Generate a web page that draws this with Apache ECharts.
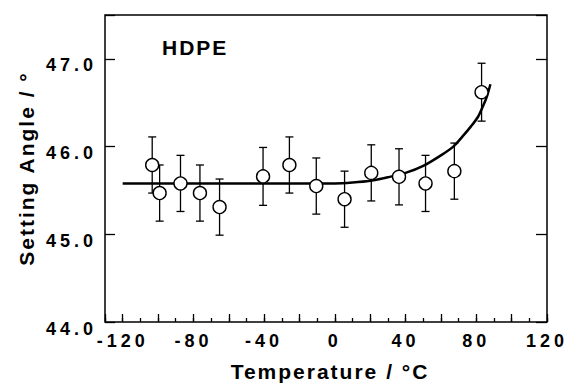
<!DOCTYPE html>
<html>
<head>
<meta charset="utf-8">
<script src="https://cdn.jsdelivr.net/npm/echarts@6/dist/echarts.min.js"></script>
<style>
html,body{margin:0;padding:0;background:#fff;}
#chart{width:570px;height:387px;}
</style>
</head>
<body>
<div id="chart"></div>
<script>
// Measured points (temperature in °C, setting angle in °)
const temps = [-103.3, -99.1, -87.3, -76.3, -65.2, -40.6, -25.7, -10.5, 5.5, 20.6, 36.3, 51.3, 67.6, 83.0];
const angles = [45.79, 45.47, 45.58, 45.47, 45.31, 45.66, 45.79, 45.55, 45.40, 45.70, 45.655, 45.58, 45.72, 46.62];
const errors = [0.32, 0.32, 0.32, 0.32, 0.32, 0.33, 0.32, 0.32, 0.32, 0.32, 0.32, 0.32, 0.32, 0.33];
// Fitted curve
const curveT = [-120, -40, 0, 10, 20, 30, 40, 50, 60, 67, 72, 77, 81, 84, 86, 88];
const curveA = [45.58, 45.58, 45.58, 45.59, 45.61, 45.65, 45.70, 45.78, 45.90, 46.00, 46.11, 46.23, 46.34, 46.47, 46.57, 46.71];
// Axis texts
const xTitle = 'Temperature / °C';
const yTitle = 'Setting Angle / °';
const panelLabel = 'HDPE';

const FONT = 'Arial, "Liberation Sans", Helvetica, sans-serif';
const chart = echarts.init(document.getElementById('chart'), null, {renderer: 'svg'});

const pts = temps.map((t, i) => [t, angles[i]]);
const bars = temps.map((t, i) => [t, angles[i] - errors[i], angles[i] + errors[i]]);
const curve = curveT.map((t, i) => [t, curveA[i]]);

chart.setOption({
  animation: false,
  backgroundColor: '#fff',
  title: {
    text: panelLabel, left: 157, top: 32,
    textStyle: {fontFamily: FONT, fontSize: 21, fontWeight: 'bold', color: '#000'}
  },
  grid: {left: 105, right: 23, top: 15, bottom: 61, show: true, borderColor: '#000', borderWidth: 1.5, backgroundColor: 'transparent'},
  xAxis: [
    {
      type: 'value', min: -130, max: 120, interval: 10, position: 'bottom',
      axisLine: {show: false, onZero: false},
      axisTick: {show: true, inside: true, length: 4, lineStyle: {color: '#000', width: 1.3}},
      axisLabel: {show: false},
      splitLine: {show: false}
    },
    {
      type: 'value', inverse: true, min: -120, max: 130, interval: 20, position: 'bottom',
      axisLine: {show: false, onZero: false},
      axisTick: {show: true, inside: true, length: 8, lineStyle: {color: '#000', width: 1.3}},
      axisLabel: {
        show: true, margin: 10, fontFamily: FONT, fontSize: 18, fontWeight: 'bold', color: '#000',
        formatter: v => (Math.abs(v) <= 120 && v % 40 === 0) ? String(-v) : ''
      },
      splitLine: {show: false},
      name: xTitle, nameLocation: 'middle', nameGap: 39,
      nameTextStyle: {fontFamily: FONT, fontSize: 21, fontWeight: 'bold', color: '#000', padding: [0, 0, 0, 8]}
    }
  ],
  yAxis: [
    {
      type: 'value', min: 44, max: 47.5, interval: 1, position: 'left',
      axisLine: {show: false, onZero: false},
      axisTick: {show: true, inside: true, length: 10, lineStyle: {color: '#000', width: 1.3}},
      axisLabel: {
        show: true, margin: 8, color: '#000',
        formatter: v => v <= 47 ? '{t|' + v.toFixed(1) + '}' : '',
        rich: {t: {fontFamily: FONT, fontSize: 18, fontWeight: 'bold', color: '#000', padding: [13, 0, 0, 0]}}
      },
      splitLine: {show: false},
      name: yTitle, nameLocation: 'middle', nameGap: 68, nameRotate: 90,
      nameTextStyle: {fontFamily: FONT, fontSize: 21, fontWeight: 'bold', color: '#000'}
    },
    {
      type: 'value', min: 44, max: 47.5, interval: 1, position: 'right',
      axisLine: {show: false, onZero: false},
      axisTick: {show: true, inside: true, length: 11, lineStyle: {color: '#000', width: 1.3}},
      axisLabel: {show: false},
      splitLine: {show: false}
    }
  ],
  series: [
    {
      type: 'line', data: curve, xAxisIndex: 0, yAxisIndex: 0,
      smooth: 0.3, symbol: 'none',
      lineStyle: {color: '#000', width: 2.5}, z: 2
    },
    {
      type: 'custom', data: bars, xAxisIndex: 0, yAxisIndex: 0, z: 3,
      renderItem: function (params, api) {
        const x = api.value(0);
        const lo = api.coord([x, api.value(1)]);
        const hi = api.coord([x, api.value(2)]);
        const w = 4;
        const st = {stroke: '#000', lineWidth: 1.3};
        return {
          type: 'group',
          children: [
            {type: 'line', shape: {x1: lo[0], y1: lo[1], x2: hi[0], y2: hi[1]}, style: st},
            {type: 'line', shape: {x1: hi[0] - w, y1: hi[1], x2: hi[0] + w, y2: hi[1]}, style: st},
            {type: 'line', shape: {x1: lo[0] - w, y1: lo[1], x2: lo[0] + w, y2: lo[1]}, style: st}
          ]
        };
      }
    },
    {
      type: 'scatter', data: pts, xAxisIndex: 0, yAxisIndex: 0, z: 4,
      symbol: 'circle', symbolSize: 13,
      itemStyle: {color: '#fff', borderColor: '#000', borderWidth: 1.4, opacity: 1}
    }
  ]
});

function spaceLetters() {
  document.querySelectorAll('#chart text').forEach(t => {
    const fs = parseFloat(getComputedStyle(t).fontSize);
    t.style.letterSpacing = fs >= 20 ? '2px' : '4px';
  });
}
chart.on('finished', spaceLetters);
spaceLetters();
</script>
</body>
</html>
